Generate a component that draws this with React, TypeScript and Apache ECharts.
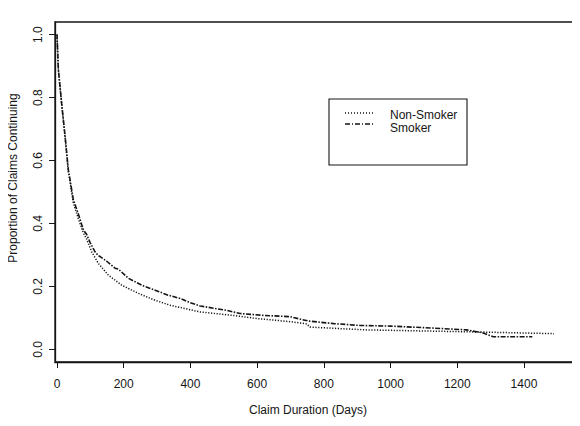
import React, { useEffect, useRef } from "react";
import * as echarts from "echarts";

// Claim duration in days and the proportion of claims still continuing
const smokerDays = [0, 4, 14, 24, 34, 39, 49, 64, 79, 89, 99, 114, 124, 129, 149, 174, 184, 214, 254, 294, 334, 369, 400, 429, 509, 549, 620, 699, 754, 830, 909, 1000, 1103, 1228, 1278, 1308, 1425];
const smokerProp = [1.0, 0.89, 0.78, 0.68, 0.57, 0.54, 0.475, 0.43, 0.38, 0.365, 0.34, 0.31, 0.298, 0.295, 0.28, 0.258, 0.255, 0.226, 0.204, 0.188, 0.172, 0.162, 0.148, 0.138, 0.124, 0.114, 0.108, 0.104, 0.09, 0.082, 0.076, 0.074, 0.069, 0.062, 0.052, 0.04, 0.04];

const nonSmokerDays = [0, 4, 14, 24, 34, 49, 64, 79, 89, 104, 124, 154, 194, 244, 294, 340, 400, 429, 528, 600, 700, 749, 758, 850, 929, 1128, 1278, 1490];
const nonSmokerProp = [1.0, 0.89, 0.78, 0.675, 0.565, 0.465, 0.415, 0.37, 0.35, 0.31, 0.273, 0.236, 0.204, 0.178, 0.156, 0.14, 0.126, 0.119, 0.108, 0.098, 0.088, 0.081, 0.071, 0.066, 0.062, 0.058, 0.055, 0.05];

const xTicks = [0, 200, 400, 600, 800, 1000, 1200, 1400];
const yTicks = [0, 0.2, 0.4, 0.6, 0.8, 1.0];

const FONT = "'Liberation Sans', Arial, sans-serif";
const INK = "#151515";

const pairs = (xs: number[], ys: number[]) => xs.map((x, i) => [x, ys[i]]);

export default function App() {
  const ref = useRef<HTMLDivElement>(null);

  useEffect(() => {
    if (!ref.current) return;
    const chart = echarts.init(ref.current, null, { renderer: "svg" });
    chart.setOption({
      animation: false,
      backgroundColor: "#ffffff",
      textStyle: { fontFamily: FONT, color: INK },
      grid: {
        left: 55,
        top: 22,
        right: 7,
        bottom: 64,
        show: true,
        borderColor: INK,
        borderWidth: 1.3,
        containLabel: false,
      },
      xAxis: {
        type: "value",
        min: -6,
        max: 1547,
        name: "Claim Duration (Days)",
        nameLocation: "middle",
        nameGap: 42,
        nameTextStyle: { fontFamily: FONT, fontSize: 12, color: INK, padding: [0, 12, 0, 0] },
        axisLine: { show: true, onZero: false, lineStyle: { color: INK, width: 1.3 } },
        axisTick: { show: true, length: 6, customValues: xTicks, lineStyle: { color: INK } },
        axisLabel: {
          customValues: xTicks,
          margin: 16,
          fontFamily: FONT,
          fontSize: 12,
          color: INK,
          formatter: (v: number) => String(v),
        },
        splitLine: { show: false },
      },
      yAxis: {
        type: "value",
        min: -0.04,
        max: 1.04,
        axisLine: { show: true, onZero: false, lineStyle: { color: INK, width: 1.3 } },
        axisTick: { show: true, length: 6, customValues: yTicks, lineStyle: { color: INK } },
        axisLabel: {
          customValues: yTicks,
          rotate: 90,
          margin: 11,
          fontFamily: FONT,
          fontSize: 12,
          color: INK,
          formatter: (v: number) => v.toFixed(1),
        },
        splitLine: { show: false },
      },
      graphic: [
        {
          type: "text",
          x: 13,
          y: 178,
          rotation: Math.PI / 2,
          style: {
            text: "Proportion of Claims Continuing",
            fontFamily: FONT,
            fontSize: 12,
            fill: INK,
            align: "center",
            verticalAlign: "middle",
          },
        },
        {
          type: "rect",
          shape: { x: 329, y: 99, width: 138, height: 66 },
          style: { fill: "#fff", stroke: INK, lineWidth: 1.1 },
          z: 10,
        },
        {
          type: "line",
          shape: { x1: 345, y1: 113, x2: 374, y2: 113 },
          style: { stroke: INK, lineWidth: 1.3, lineDash: [1, 2] },
          z: 11,
        },
        {
          type: "line",
          shape: { x1: 345, y1: 124, x2: 374, y2: 124 },
          style: { stroke: INK, lineWidth: 1.3, lineDash: [5, 2, 1, 2] },
          z: 11,
        },
        {
          type: "text",
          x: 390,
          y: 115,
          style: { text: "Non-Smoker", fontFamily: FONT, fontSize: 12, fill: INK, verticalAlign: "middle" },
          z: 11,
        },
        {
          type: "text",
          x: 390,
          y: 128,
          style: { text: "Smoker", fontFamily: FONT, fontSize: 12, fill: INK, verticalAlign: "middle" },
          z: 11,
        },
      ],
      series: [
        {
          name: "Non-Smoker",
          type: "line",
          data: pairs(nonSmokerDays, nonSmokerProp),
          showSymbol: false,
          symbol: "none",
          lineStyle: { color: INK, width: 1.5, type: [1.2, 1.6] },
        },
        {
          name: "Smoker",
          type: "line",
          data: pairs(smokerDays, smokerProp),
          showSymbol: false,
          symbol: "none",
          lineStyle: { color: INK, width: 1.6, type: [5, 1.5, 1.5, 1.5] },
        },
      ],
    });
    return () => chart.dispose();
  }, []);

  return <div ref={ref} style={{ width: 580, height: 426, margin: -8 }} />;
}
